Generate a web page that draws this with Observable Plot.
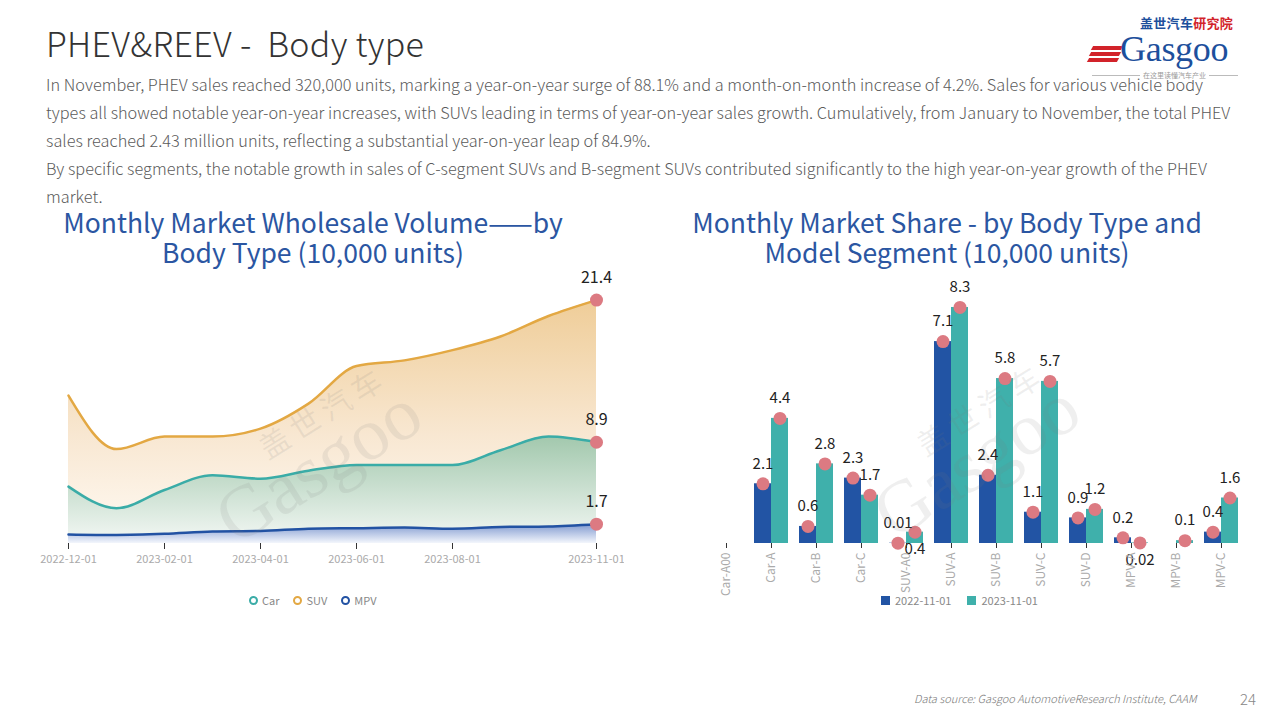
<!DOCTYPE html>
<html><head><meta charset="utf-8">
<script src="https://cdn.jsdelivr.net/npm/d3@7"></script>
<script src="https://cdn.jsdelivr.net/npm/@observablehq/plot@0.6"></script>
<style>
html,body{margin:0;padding:0;}
body{width:1280px;height:720px;position:relative;background:#fff;overflow:hidden;font-family:"Noto Sans CJK SC","Noto Sans",sans-serif;}
.abs{position:absolute;}
.light{font-family:"Noto Sans CJK SC Light","Noto Sans CJK SC","Noto Sans",sans-serif;font-weight:300}
#title{left:46px;top:18px;font-size:34px;color:#333;white-space:nowrap;letter-spacing:0.3px}
#para{left:46px;top:70px;font-size:16.3px;line-height:28px;color:#5a5a5a;white-space:nowrap;letter-spacing:0.02px}
.ctitle{color:#2b56a2;font-size:26.5px;line-height:30px;text-align:center;white-space:nowrap}
.legend{font-size:11px;color:#888;display:flex;align-items:center;gap:6px;white-space:nowrap}
.ring{display:inline-block;width:5px;height:5px;border-radius:50%;border:2px solid;margin-right:4px}
.sq{display:inline-block;width:9px;height:9px;margin-right:5px}
.wm{color:rgba(120,120,120,0.12);white-space:nowrap;transform:translate(-50%,-50%) rotate(-32deg);z-index:5;pointer-events:none}
#foot{left:914px;top:690px;font-size:11px;font-style:italic;color:#777;white-space:nowrap}
#page{left:1240px;top:688px;font-size:15px;color:#888}
svg{background:transparent}
</style></head>
<body>
<div id="title" class="abs light">PHEV&amp;REEV -&nbsp; Body type</div>
<div id="para" class="abs light">
<div>In November, PHEV sales reached 320,000 units, marking a year-on-year surge of 88.1% and a month-on-month increase of 4.2%. Sales for various vehicle body</div>
<div>types all showed notable year-on-year increases, with SUVs leading in terms of year-on-year sales growth. Cumulatively, from January to November, the total PHEV</div>
<div>sales reached 2.43 million units, reflecting a substantial year-on-year leap of 84.9%.</div>
<div>By specific segments, the notable growth in sales of C-segment SUVs and B-segment SUVs contributed significantly to the high year-on-year growth of the PHEV</div>
<div>market.</div>
</div>

<!-- logo -->
<div class="abs" style="left:1140px;top:15px;font-size:13px;line-height:16px;font-weight:bold;letter-spacing:0.3px;white-space:nowrap"><span style="color:#1d4f9c">盖世汽车</span><span style="color:#d2232a">研究院</span></div>
<div class="abs" style="left:1092px;top:46px;width:30px;height:4px;background:#d2232a;transform:skewX(-30deg)"></div>
<div class="abs" style="left:1090px;top:52px;width:30px;height:4px;background:#d2232a;transform:skewX(-30deg)"></div>
<div class="abs" style="left:1088px;top:58px;width:30px;height:4px;background:#d2232a;transform:skewX(-30deg)"></div>
<div class="abs" style="left:1120px;top:31px;font-family:'Liberation Serif','DejaVu Serif',serif;font-size:36px;line-height:36px;color:#1d4f9c;white-space:nowrap;letter-spacing:-0.3px">Gasgoo</div>
<div class="abs" style="left:1092px;top:75px;width:146px;height:1px;background:#bbb"></div>
<div class="abs" style="left:1140px;top:71px;font-size:7px;line-height:9px;color:#999;background:#fff;padding:0 3px;white-space:nowrap">在这里读懂汽车产业</div>

<div class="abs ctitle" style="left:0px;width:626px;top:207px">Monthly Market Wholesale Volume——by<br>Body Type (10,000 units)</div>
<div class="abs ctitle" style="left:640px;width:614px;top:207px">Monthly Market Share - by Body Type and<br>Model Segment (10,000 units)</div>

<div id="left" class="abs" style="left:0px;top:260px"></div>
<div id="right" class="abs" style="left:690px;top:260px"></div>

<!-- watermarks (above charts, faint) -->
<div class="abs wm" style="left:322px;top:411px;font-size:30px;line-height:30px;letter-spacing:6px">盖世汽车</div>
<div class="abs wm" style="left:318px;top:465px;font-size:74px;line-height:74px;font-family:'Liberation Serif',serif">Gasgoo</div>
<div class="abs wm" style="left:980px;top:408px;font-size:30px;line-height:30px;letter-spacing:6px">盖世汽车</div>
<div class="abs wm" style="left:976px;top:460px;font-size:74px;line-height:74px;font-family:'Liberation Serif',serif">Gasgoo</div>

<div class="abs legend" id="legL" style="left:249px;top:592px"></div>
<div class="abs legend" id="legR" style="left:881px;top:592px"></div>

<div id="foot" class="abs light">Data source: Gasgoo AutomotiveResearch Institute, CAAM</div>
<div id="page" class="abs light">24</div>

<script>
// ---------- data: left chart (10,000 units) ----------
const months = ["2022-12-01","2023-01-01","2023-02-01","2023-03-01","2023-04-01","2023-05-01","2023-06-01","2023-07-01","2023-08-01","2023-09-01","2023-10-01","2023-11-01"];
const carVol = [5.0, 3.1, 4.7, 6.0, 5.7, 6.4, 6.9, 6.9, 6.9, 8.2, 9.4, 8.9];
const suvVol = [13.0, 8.3, 9.4, 9.4, 10.1, 12.3, 15.6, 16.1, 17.0, 18.2, 20.0, 21.4];
const mpvVol = [0.8, 0.75, 0.85, 1.05, 1.1, 1.3, 1.35, 1.4, 1.3, 1.45, 1.5, 1.7];
const monthTicks = ["2022-12-01","2023-02-01","2023-04-01","2023-06-01","2023-08-01","2023-11-01"];
const bodyTypes = ["Car","SUV","MPV"];

// ---------- data: right chart ----------
const segments = ["Car-A00","Car-A","Car-B","Car-C","SUV-A0","SUV-A","SUV-B","SUV-C","SUV-D","MPV-A","MPV-B","MPV-C"];
const periods = ["2022-11-01","2023-11-01"];
const share2022 = [null, 2.1, 0.6, 2.3, 0.01, 7.1, 2.4, 1.1, 0.9, 0.2, null, 0.4];
const share2023 = [null, 4.4, 2.8, 1.7, 0.4, 8.3, 5.8, 5.7, 1.2, 0.02, 0.1, 1.6];

// ---------- styles ----------
const lineColors = {Car:"#3aaca7", SUV:"#e3a843", MPV:"#2252a3"};
const barColors = ["#2254a4", "#3fb0ab"];
const dotColor = "#dc7a82";

const series = {Car: carVol, SUV: suvVol, MPV: mpvVol};
const rows = t => months.map((m,i)=>({m, v: series[t][i], t}));

const defsMark = () => {
  const ns = "http://www.w3.org/2000/svg";
  const g = document.createElementNS(ns, "defs");
  g.innerHTML = `
   <linearGradient id="gSUV" x1="0" y1="0" x2="0" y2="1">
     <stop offset="0" stop-color="#efcd98"/><stop offset="0.55" stop-color="#f8e7d1"/><stop offset="1" stop-color="#fffaf4"/></linearGradient>
   <linearGradient id="gCar" x1="0" y1="0" x2="0" y2="1">
     <stop offset="0" stop-color="#a2c8ad"/><stop offset="1" stop-color="#f4f8f5"/></linearGradient>
   <linearGradient id="gMPV" x1="0" y1="0" x2="0" y2="1">
     <stop offset="0" stop-color="#7e98cf"/><stop offset="1" stop-color="#f3f6fc"/></linearGradient>`;
  return g;
};

const lastPts = bodyTypes.map(t => ({m: months[months.length-1], v: series[t][months.length-1]}));

const left = Plot.plot({
  width: 624, height: 320,
  marginLeft: 63, marginRight: 24, marginTop: 10, marginBottom: 37,
  style: {overflow: "hidden", background: "transparent", fontFamily: "'Noto Sans CJK SC', sans-serif"},
  x: {type: "point", domain: months, padding: 0},
  y: {domain: [0, 24], axis: null},
  marks: [
    defsMark,
    Plot.areaY(rows("SUV"), {x: "m", y: "v", fill: "url(#gSUV)", curve: "monotone-x"}),
    Plot.areaY(rows("Car"), {x: "m", y: "v", fill: "url(#gCar)", curve: "monotone-x"}),
    Plot.areaY(rows("MPV"), {x: "m", y: "v", fill: "url(#gMPV)", curve: "monotone-x"}),
    ...bodyTypes.map(t => Plot.lineY(rows(t), {x: "m", y: "v", stroke: lineColors[t], strokeWidth: 2.5, curve: "monotone-x"})),
    Plot.dot(lastPts, {x: "m", y: "v", r: 6.5, fill: dotColor}),
    Plot.text(lastPts, {x: "m", y: "v", text: d => d.v.toFixed(1), dy: -22, fontSize: 16, fill: "#222"}),
    Plot.axisX({ticks: monthTicks, tickSize: 6, stroke: "#333", fill: "#aaa", fontSize: 11, tickPadding: 6, label: null})
  ]
});
document.getElementById("left").appendChild(left);

// right chart
const shareData = segments.flatMap((s, i) => [
  {seg: s, period: periods[0], v: share2022[i]},
  {seg: s, period: periods[1], v: share2023[i]}
]).filter(d => d.v != null);
const belowLabel = d => (d.seg === "SUV-A0" || d.seg === "MPV-A") && d.period === periods[1];

const right = Plot.plot({
  width: 574, height: 350,
  marginLeft: 6, marginRight: 13, marginTop: 10, marginBottom: 67,
  style: {overflow: "visible", background: "transparent", fontFamily: "'Noto Sans CJK SC', sans-serif"},
  fx: {domain: segments, paddingInner: 0.25, paddingOuter: 0.25, label: null},
  x: {domain: periods, padding: 0, axis: null},
  y: {domain: [0, 9.6], axis: null},
  color: {domain: periods, range: barColors},
  marks: [
    Plot.barY(shareData, {fx: "seg", x: "period", y: "v", fill: "period"}),
    Plot.dot(shareData, {fx: "seg", x: "period", y: "v", r: 6.5, fill: dotColor}),
    Plot.text(shareData.filter(d => !belowLabel(d)), {fx: "seg", x: "period", y: "v", text: d => String(d.v), dy: -20, fontSize: 15, fill: "#222"}),
    Plot.text(shareData.filter(belowLabel), {fx: "seg", x: "period", y: "v", text: d => String(d.v), dy: 17, fontSize: 15, fill: "#222"}),
    Plot.axisFx({anchor: "bottom", tickRotate: -90, tickSize: 5, stroke: "#333", fill: "#aaa", fontSize: 12, tickPadding: 4, label: null})
  ]
});
document.getElementById("right").appendChild(right);

// legends
document.getElementById("legL").innerHTML = bodyTypes.map(t =>
  `<span style="margin-right:8px"><span class="ring" style="border-color:${lineColors[t]}"></span>${t}</span>`).join("");
document.getElementById("legR").innerHTML = periods.map((p, i) =>
  `<span style="margin-right:10px"><span class="sq" style="background:${barColors[i]}"></span>${p}</span>`).join("");
</script>
</body></html>
